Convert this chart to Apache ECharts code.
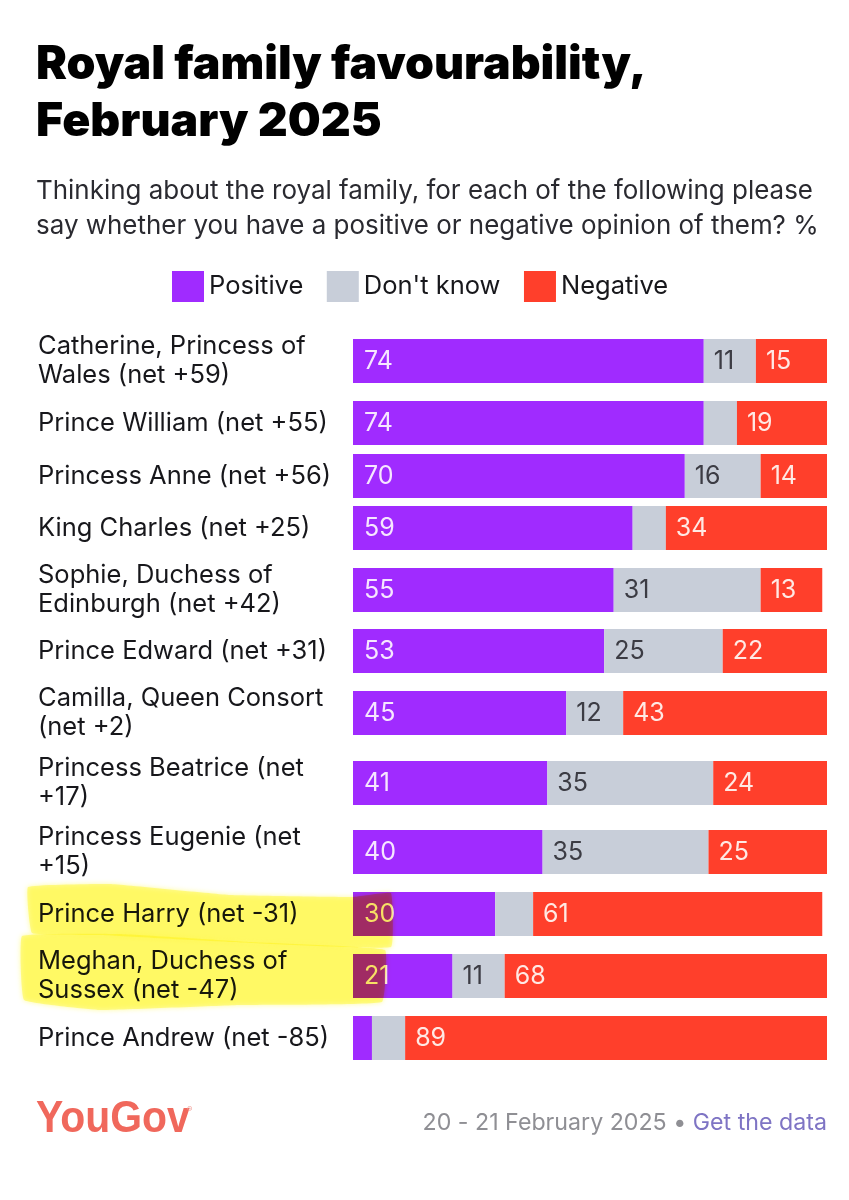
<!DOCTYPE html>
<html><head><meta charset="utf-8">
<style>html,body{margin:0;padding:0;background:#fff}#c{width:849px;height:1200px}</style>
<script src="https://cdn.jsdelivr.net/npm/echarts@6/dist/echarts.min.js"></script>
</head><body><div id="c"></div>
<script>
const people = ["Catherine, Princess of\nWales (net +59)","Prince William (net +55)","Princess Anne (net +56)","King Charles (net +25)","Sophie, Duchess of\nEdinburgh (net +42)","Prince Edward (net +31)","Camilla, Queen Consort\n(net +2)","Princess Beatrice (net\n+17)","Princess Eugenie (net\n+15)","Prince Harry (net -31)","Meghan, Duchess of\nSussex (net -47)","Prince Andrew (net -85)"];
const positive = [74,74,70,59,55,53,45,41,40,30,21,4];
const dontKnow = [11,7,16,7,31,25,12,35,35,8,11,7];
const negative = [15,19,14,34,13,22,43,24,25,61,68,89];
const seriesNames = ["Positive","Don't know","Negative"];
const colors = ["#a02bff","#c8ced9","#ff3f2b"];
const labelColors = ["#f6e6ff","#3c3c44","#ffe9e4"];
const rowCentres = [361,423,476,528,590,651,713,783,852,914,976,1038];
const barH = 44, left = 353, width = 474;
const F = "Inter, 'Noto Sans', sans-serif";
const grids=[],xAxes=[],yAxes=[],series=[];
const columns=[positive,dontKnow,negative];
people.forEach((p,i)=>{
  grids.push({left,width,top:rowCentres[i]-barH/2,height:barH});
  xAxes.push({type:'value',gridIndex:i,min:0,max:100,show:false});
  yAxes.push({type:'category',gridIndex:i,data:[p],axisLine:{show:false},axisTick:{show:false},
    axisLabel:{align:'left',margin:315,color:'#17171b',fontFamily:F,fontSize:25.5,lineHeight:29}});
  columns.forEach((col,s)=>{
    series.push({type:'bar',name:seriesNames[s],stack:'r'+i,xAxisIndex:i,yAxisIndex:i,barWidth:barH,
      data:[col[i]],itemStyle:{color:colors[s]},silent:true,
      label:{show:col[i]>=10,position:'insideLeft',distance:s==0?11:10,color:labelColors[s],fontFamily:F,fontSize:25}});
  });
});
const chart=echarts.init(document.getElementById('c'),null,{renderer:'canvas'});
chart.setOption({
  animation:false,backgroundColor:'#fff',
  title:[
    {text:"Royal family favourability,\nFebruary 2025",left:31,top:32,textStyle:{fontFamily:F,fontWeight:900,fontSize:46.4,lineHeight:57,color:'#000'}},
    {text:"Thinking about the royal family, for each of the following please\nsay whether you have a positive or negative opinion of them? %",left:31,top:169,textStyle:{fontFamily:F,fontWeight:400,fontSize:25.95,lineHeight:34.5,color:'#2a2a30'}}
  ],
  legend:{data:seriesNames.map(n=>({name:n,icon:'rect'})),left:167,top:266,itemWidth:32,itemHeight:31,itemGap:23.5,
    selectedMode:false,textStyle:{fontFamily:F,fontSize:25.5,color:'#17171b'}},
  grid:grids,xAxis:xAxes,yAxis:yAxes,series,
  graphic:[
    {type:'polygon',z:100,shape:{smooth:0.08,points:[[28,887],[110,884],[230,895],[353,897],[391,893],[391,947],[230,942],[100,935],[32,933]]},
     style:{fill:'#fffb80',opacity:0.75,blend:'multiply',shadowBlur:5,shadowColor:'#fffb80'}},
    {type:'polygon',z:101,shape:{smooth:0.08,points:[[22,936],[120,934],[250,942],[385,950],[382,1002],[240,1005],[100,1010],[24,1000]]},
     style:{fill:'#fffb80',opacity:0.75,blend:'multiply',shadowBlur:5,shadowColor:'#fffb80'}},
    {type:'text',x:36,y:1120,scaleX:0.93,z:50,style:{text:'YouGov',fontFamily:"'Liberation Sans',sans-serif",fontWeight:700,fontSize:44,fill:'#f0685c',verticalAlign:'middle'}},
    {type:'text',left:187,top:1106,z:50,style:{text:'®',fontFamily:F,fontSize:8,fill:'#f0a29b'}},
    {type:'text',right:22,top:1112,z:50,style:{rich:{a:{fontFamily:F,fontSize:23.2,fill:'#8f8f94'},b:{fontFamily:F,fontSize:23.2,fill:'#7e74c4'}},text:'{a|20 - 21 February 2025 • }{b|Get the data}'}}
  ]
});
</script></body></html>
